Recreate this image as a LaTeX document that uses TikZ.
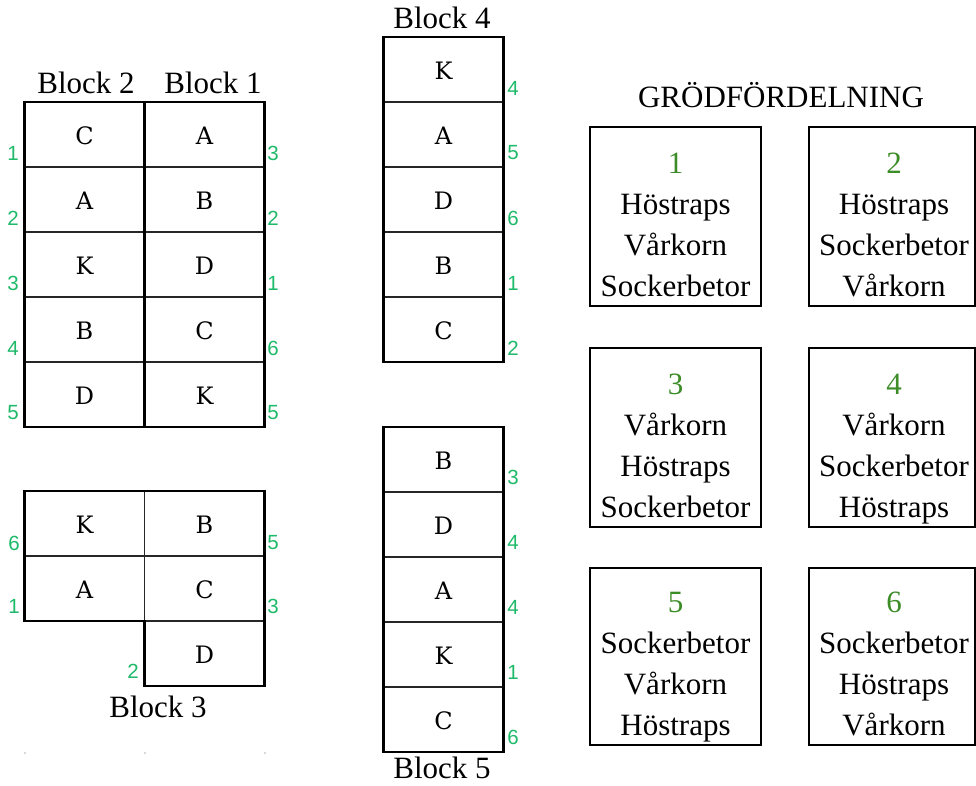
\documentclass[tikz,border=0pt]{standalone}
\usepackage{fontspec}
\setmainfont{Liberation Serif}
\newfontfamily\numfont{Liberation Sans}
\newfontfamily\cellfont{DejaVu Serif}
\definecolor{numgreen}{RGB}{30,185,105}
\definecolor{boxgreen}{RGB}{60,140,40}
\begin{document}
\begin{tikzpicture}[x=1pt,y=-1pt,
  cell/.style={draw=black!85, line width=1.4pt, minimum width=120pt, minimum height=65pt, inner sep=0pt, text depth=0pt, font=\cellfont\fontsize{24}{28}\selectfont},
  outer/.style={draw=black, line width=2.8pt, line join=miter},
  num/.style={text=numgreen, inner sep=0pt, font=\numfont\fontsize{20.5}{24}\selectfont},
  title/.style={inner sep=0pt, font=\fontsize{31}{34}\selectfont},
  cropbox/.style={draw=black, line width=2.2pt, minimum width=171pt, minimum height=179pt, inner sep=0pt},
  croptext/.style={align=center, inner sep=0pt, font=\fontsize{31}{41}\selectfont},
  bn/.style={text=boxgreen}]
\useasboundingbox (0,0) rectangle (976,785);

% ---------- Block 2 and Block 1 ----------
\node[title] (t2) at (86,83) {Block 2};
\node[title] (t1) at (213,83) {Block 1};
\foreach \i/\a/\b in {0/C/A,1/A/B,2/K/D,3/B/C,4/D/K}{
  \node[cell] (b2c\i) at (84.5,134.5+65*\i) {\raisebox{-2pt}{\a}};
  \node[cell] (b1c\i) at (204.5,134.5+65*\i) {\raisebox{-2pt}{\b}};
}
\draw[outer] (24.5,102) rectangle (264.5,427);
\draw[outer] (144.5,102) -- (144.5,427);
\foreach \i/\l/\r in {0/1/3,1/2/2,2/3/1,3/4/6,4/5/5}{
  \node[num] (l12n\i) at (13,153+65*\i) {\l};
  \node[num] (r12n\i) at (273,153+65*\i) {\r};
}

% ---------- Block 3 ----------
\node[cell] (b3a) at (84.5,523.5) {\raisebox{-2pt}{K}};
\node[cell] (b3b) at (204.5,523.5) {\raisebox{-2pt}{B}};
\node[cell] (b3c) at (84.5,588.5) {\raisebox{-2pt}{A}};
\node[cell] (b3d) at (204.5,588.5) {\raisebox{-2pt}{C}};
\node[cell] (b3e) at (204.5,653.5) {\raisebox{-2pt}{D}};
\draw[outer] (24.5,491) -- (264.5,491) -- (264.5,686) -- (144.5,686) -- (144.5,621) -- (24.5,621) -- cycle;
\node[num] (b3n1) at (14,543) {6};
\node[num] (b3n2) at (14,606) {1};
\node[num] (b3n3) at (273,543) {5};
\node[num] (b3n4) at (273,606) {3};
\node[num] (b3n5) at (133,671) {2};
\node[title] (t3) at (158,707) {Block 3};

% ---------- Block 4 ----------
\node[title] (t4) at (442,18) {Block 4};
\foreach \i/\a/\r in {0/K/4,1/A/5,2/D/6,3/B/1,4/C/2}{
  \node[cell] (b4c\i) at (443.5,69.5+65*\i) {\raisebox{-2pt}{\a}};
  \node[num] (b4n\i) at (513,88+65*\i) {\r};
}
\draw[outer] (383.5,37) rectangle (503.5,362);

% ---------- Block 5 ----------
\foreach \i/\a/\r in {0/B/3,1/D/4,2/A/4,3/K/1,4/C/6}{
  \node[cell] (b5c\i) at (443.5,459.5+65*\i) {\raisebox{-2pt}{\a}};
  \node[num] (b5n\i) at (513,477+65*\i) {\r};
}
\draw[outer] (383.5,427) rectangle (503.5,752);
\node[title] (t5) at (442,768) {Block 5};

% ---------- Grödfördelning ----------
\node[title] (tg) at (781,95) {GRÖDFÖRDELNING};
\node[cropbox] (g1) at (675.5,216.5) {};
\node[cropbox, minimum width=166pt] (g2) at (892,216.5) {};
\node[cropbox] (g3) at (675.5,437.5) {};
\node[cropbox, minimum width=166pt] (g4) at (892,437.5) {};
\node[cropbox, minimum height=177pt] (g5) at (675.5,656.5) {};
\node[cropbox, minimum width=166pt, minimum height=177pt] (g6) at (892,656.5) {};

\node[croptext] (g1t) at (675.5,227) {{\color{boxgreen}1}\strut\\Höstraps\strut\\Vårkorn\strut\\Sockerbetor\strut};
\node[croptext] (g2t) at (894,227) {{\color{boxgreen}2}\strut\\Höstraps\strut\\Sockerbetor\strut\\Vårkorn\strut};
\node[croptext] (g3t) at (675.5,448) {{\color{boxgreen}3}\strut\\Vårkorn\strut\\Höstraps\strut\\Sockerbetor\strut};
\node[croptext] (g4t) at (894,448) {{\color{boxgreen}4}\strut\\Vårkorn\strut\\Sockerbetor\strut\\Höstraps\strut};
\node[croptext] (g5t) at (675.5,666) {{\color{boxgreen}5}\strut\\Sockerbetor\strut\\Vårkorn\strut\\Höstraps\strut};
\node[croptext] (g6t) at (894,666) {{\color{boxgreen}6}\strut\\Sockerbetor\strut\\Höstraps\strut\\Vårkorn\strut};

% faint marks
\foreach \x in {25,145,265}{\fill[black!15] (\x-1,752) rectangle (\x+1,754);}
\end{tikzpicture}
\end{document}
